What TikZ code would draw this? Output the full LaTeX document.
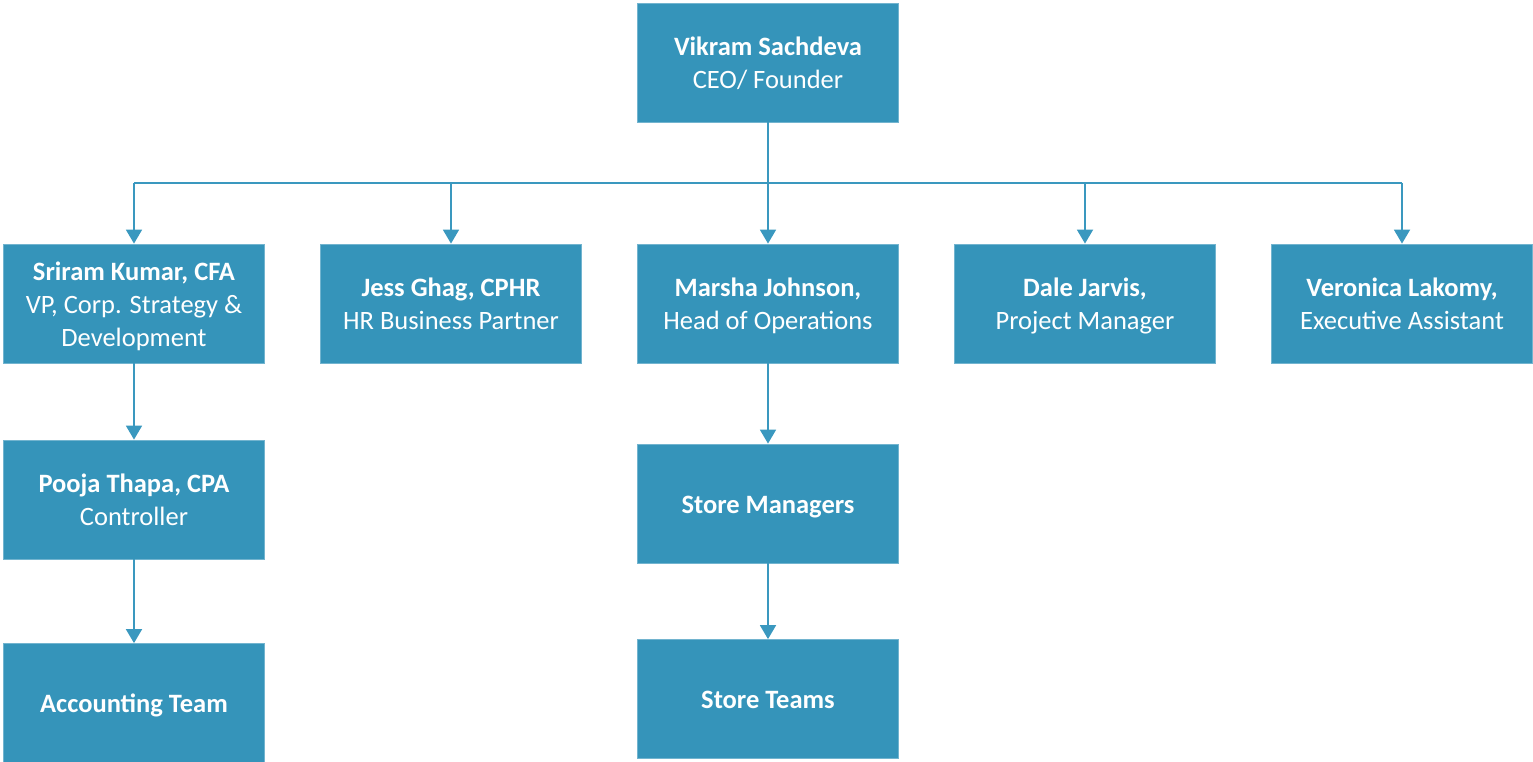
\documentclass[tikz,border=0pt]{standalone}
\usepackage{fontspec}
\setmainfont{Carlito}
\usetikzlibrary{arrows.meta}
\definecolor{boxblue}{HTML}{3594BA}
\definecolor{lineblue}{HTML}{3A98BF}
\newcommand{\orgtxt}[1]{\raisebox{-3pt}[\height][\depth]{\begin{tabular}{@{}c@{}}#1\end{tabular}}}
\begin{document}
\begin{tikzpicture}[x=1pt,y=-1pt,
  orgbox/.style={fill=boxblue,draw=boxblue!70!white,line width=0.8pt,minimum width=261pt,minimum height=119pt,inner sep=0pt,align=center,text=white,font=\fontsize{26.5}{33}\selectfont},
  conn/.style={draw=lineblue,line width=1.8pt,-{Triangle[width=16pt,length=14pt]}},
  bus/.style={draw=lineblue,line width=1.8pt}]
\useasboundingbox (0,0) rectangle (1533,762);
\node[orgbox] (ceo) at (768,62.5) {\orgtxt{\textbf{Vikram Sachdeva}\\CEO/ Founder}};
\node[orgbox] (sri) at (134,303.5) {\orgtxt{\textbf{Sriram Kumar, CFA}\\VP, Corp. Strategy \&\\Development}};
\node[orgbox] (jess) at (451,303.5) {\orgtxt{\textbf{Jess Ghag, CPHR}\\HR Business Partner}};
\node[orgbox] (mar) at (768,303.5) {\orgtxt{\textbf{Marsha Johnson,}\\Head of Operations}};
\node[orgbox] (dale) at (1085,303.5) {\orgtxt{\textbf{Dale Jarvis,}\\Project Manager}};
\node[orgbox] (ver) at (1402,303.5) {\orgtxt{\textbf{Veronica Lakomy,}\\Executive Assistant}};
\node[orgbox] (poo) at (134,499.5) {\orgtxt{\textbf{Pooja Thapa, CPA}\\Controller}};
\node[orgbox] (acc) at (134,703) {\orgtxt{\textbf{Accounting Team}}};
\node[orgbox] (sm) at (768,503.5) {\orgtxt{\textbf{Store Managers}}};
\node[orgbox] (st) at (768,699) {\orgtxt{\textbf{Store Teams}}};
\coordinate (busL) at (134,183);
\coordinate (busR) at (1402,183);
\draw[bus] (ceo.south) -- (768,183);
\draw[bus] (busL) -- (busR);
\draw[conn] (busL) -- (sri.north);
\draw[conn] (451,183) -- (jess.north);
\draw[conn] (768,183) -- (mar.north);
\draw[conn] (1085,183) -- (dale.north);
\draw[conn] (busR) -- (ver.north);
\draw[conn] (sri.south) -- (poo.north);
\draw[conn] (poo.south) -- (acc.north);
\draw[conn] (mar.south) -- (sm.north);
\draw[conn] (sm.south) -- (st.north);
\end{tikzpicture}
\end{document}
